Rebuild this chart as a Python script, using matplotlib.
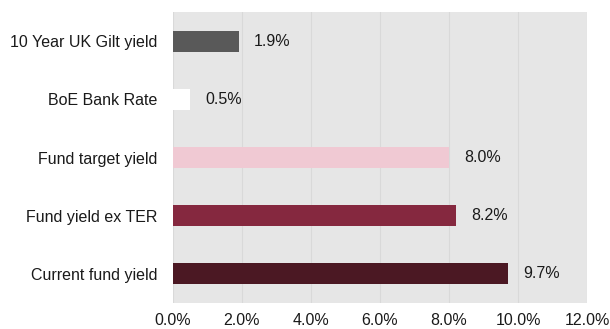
import matplotlib
matplotlib.use("Agg")
import matplotlib.pyplot as plt

plt.rcParams['font.family'] = ['Liberation Sans', 'DejaVu Sans']

categories = ["Current fund yield", "Fund yield ex TER", "Fund target yield",
              "BoE Bank Rate", "10 Year UK Gilt yield"]
values = [9.7, 8.2, 8.0, 0.5, 1.9]
colours = ["#4b1823", "#85283f", "#f0c9d3", "#ffffff", "#595959"]
xticks = [0, 2, 4, 6, 8, 10, 12]

fig = plt.figure(figsize=(6.1, 3.29), dpi=100)
ax = fig.add_axes([0.2836, 0.079, 0.6787, 0.8845])
ax.set_facecolor("#e6e6e6")

ypos = range(len(categories))
ax.barh(ypos, values, height=0.36, color=colours, zorder=3)
for y, v in zip(ypos, values):
    ax.annotate("%.1f%%" % v, (v, y), xytext=(11, 0), textcoords="offset points",
                ha="left", va="center", fontsize=11.5, color="#1a1a1a")

ax.set_xlim(0, 12)
ax.set_ylim(-0.5, 4.5)
ax.set_xticks(xticks)
ax.set_xticklabels(["%.1f%%" % t for t in xticks], fontsize=11.5, color="#1a1a1a")
ax.set_yticks(list(ypos))
ax.set_yticklabels(categories, fontsize=11.5, color="#1a1a1a")
ax.tick_params(length=0)
ax.tick_params(axis="y", pad=11)
ax.tick_params(axis="x", pad=7)
ax.grid(axis="x", color="#d9d9d9", linewidth=0.8, zorder=0)
for s in ax.spines.values():
    s.set_visible(False)

fig.savefig("out.png", dpi=100)
